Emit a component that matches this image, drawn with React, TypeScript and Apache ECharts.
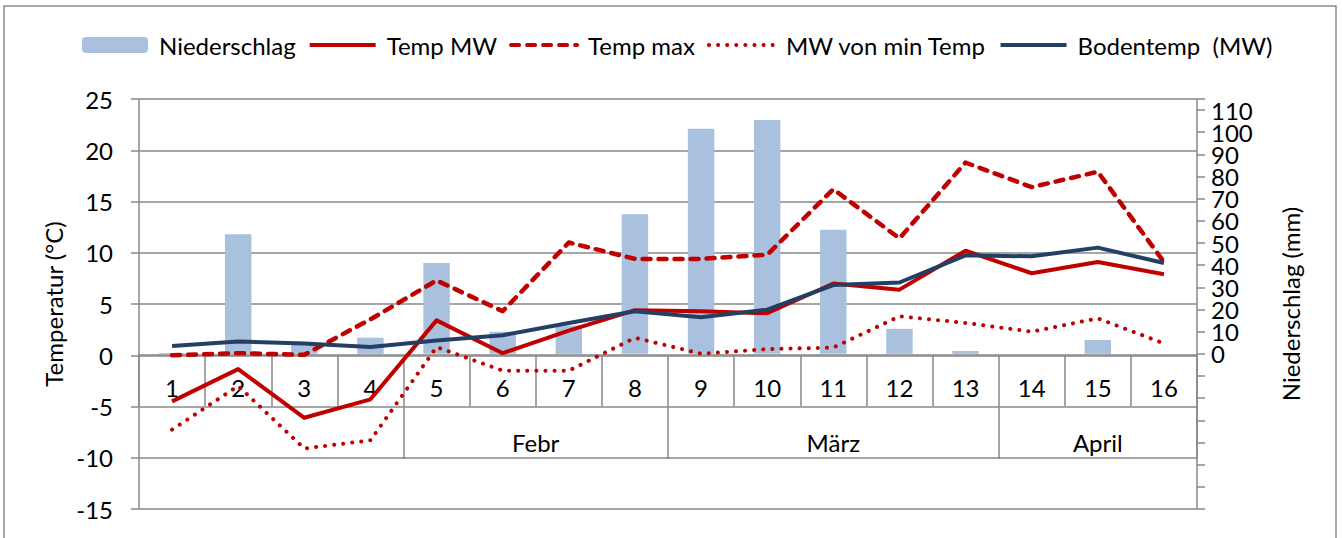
import React, { useEffect, useRef } from 'react';
import * as echarts from 'echarts';

const categories = ['1', '2', '3', '4', '5', '6', '7', '8', '9', '10', '11', '12', '13', '14', '15', '16'];
const monthLabels = ['', '', '', '', '', 'Febr', '', '', '', '', 'März', '', '', '', 'April', ''];
const groupStartIndex = [4, 8, 13];

const niederschlag = [0.4, 54, 4, 7.3, 41, 10, 12.8, 63, 101.6, 105.5, 56, 11.3, 1.3, 0, 6.3, 0];
const tempMW = [-4.5, -1.35, -6.1, -4.3, 3.4, 0.2, 2.4, 4.4, 4.3, 4.1, 7.0, 6.4, 10.2, 8.0, 9.1, 7.9];
const tempMax = [0, 0.2, 0.05, 3.5, 7.3, 4.3, 11, 9.4, 9.4, 9.8, 16.2, 11.4, 18.8, 16.4, 17.9, 9.1];
const minTempMW = [-7.25, -3.0, -9.1, -8.3, 0.8, -1.5, -1.5, 1.7, 0.15, 0.6, 0.75, 3.8, 3.15, 2.3, 3.6, 1.15];
const bodentemp = [0.9, 1.35, 1.15, 0.8, 1.45, 1.95, 3.15, 4.3, 3.7, 4.45, 6.85, 7.1, 9.75, 9.65, 10.5, 9.0];

export default function App() {
  const ref = useRef<HTMLDivElement>(null);
  useEffect(() => {
    document.body.style.margin = '0';
    const chart = echarts.init(ref.current!, null, { renderer: 'svg' });
    const font = 'Lato';
    const fs = 24;
    const gray = '#898989';
    const red = '#C00000';
    const navy = '#243F64';
    const txt = { fontFamily: font, fontSize: fs, color: '#000' };
    const noSymbol = { itemStyle: { opacity: 0 } };
    chart.setOption({
      animation: false,
      backgroundColor: '#fff',
      textStyle: { fontFamily: font },
      graphic: [
        {
          type: 'rect',
          silent: true,
          z: -1,
          shape: { x: 4, y: 6, width: 1332, height: 560 },
          style: { fill: 'rgba(0,0,0,0)', stroke: '#8c8c8c', lineWidth: 1.5 },
        },
      ],
      legend: {
        left: 82,
        top: 33,
        padding: 0,
        itemWidth: 66,
        itemHeight: 16,
        itemGap: 12,
        lineStyle: { width: 4 },
        textStyle: { ...txt, padding: [0, 0, 0, 6] },
        data: [
          { name: 'Niederschlag' },
          { name: 'Temp MW', ...noSymbol },
          { name: 'Temp max', ...noSymbol },
          { name: 'MW von min Temp', ...noSymbol },
          { name: 'Bodentemp  (MW)', ...noSymbol },
        ],
      },
      grid: { left: 139, right: 145, top: 99, bottom: 29, containLabel: false, outerBoundsMode: 'none' },
      xAxis: [
        {
          type: 'category',
          data: categories,
          position: 'bottom',
          offset: -154,
          boundaryGap: true,
          axisLine: { show: true, onZero: false, lineStyle: { color: gray, width: 1.5 } },
          axisTick: { show: true, interval: 0, length: 51, lineStyle: { color: gray, width: 1.5 } },
          axisLabel: { ...txt, interval: 0, margin: 20 },
          splitLine: { show: false },
        },
        {
          type: 'category',
          data: monthLabels,
          position: 'bottom',
          offset: -103,
          boundaryGap: true,
          axisLine: { show: false, onZero: false },
          axisTick: {
            show: true,
            interval: (i: number) => groupStartIndex.includes(i),
            length: 53,
            lineStyle: { color: gray, width: 1.5 },
          },
          axisLabel: {
            ...txt,
            interval: 0,
            margin: 24,
            formatter: (v: string) => (v === 'Febr' ? '{s|' + v + '}' : v),
            rich: { s: { ...txt, padding: [0, 0, 0, 66] } },
          },
          splitLine: { show: false },
        },
      ],
      yAxis: [
        {
          type: 'value',
          min: -15,
          max: 25,
          interval: 5,
          position: 'left',
          axisLine: { show: true, lineStyle: { color: gray, width: 1.5 } },
          axisTick: { show: true, length: 8, lineStyle: { color: gray, width: 1.5 } },
          axisLabel: { ...txt, margin: 26 },
          splitLine: { show: true, lineStyle: { color: gray, width: 1.5 } },
          name: 'Temperatur (°C)',
          nameLocation: 'middle',
          nameRotate: 90,
          nameGap: 70,
          nameTextStyle: txt,
        },
        {
          type: 'value',
          min: -70,
          max: 115,
          interval: 10,
          position: 'right',
          axisLine: { show: true, lineStyle: { color: gray, width: 1.5 } },
          axisTick: { show: true, length: 8, lineStyle: { color: gray, width: 1.5 } },
          axisLabel: {
            ...txt,
            margin: 14,
            lineHeight: 20,
            formatter: (v: number) => (v >= 0 && v <= 110 ? String(v) : ''),
          },
          splitLine: { show: false },
          name: 'Niederschlag (mm)',
          nameLocation: 'middle',
          nameRotate: 90,
          nameGap: 81,
          nameTextStyle: txt,
        },
      ],
      series: [
        {
          name: 'Niederschlag',
          type: 'bar',
          xAxisIndex: 0,
          yAxisIndex: 1,
          data: niederschlag,
          barWidth: '40%',
          itemStyle: { color: '#A9C1DE' },
        },
        {
          name: 'Temp MW',
          type: 'line',
          yAxisIndex: 0,
          data: tempMW,
          symbol: 'none',
          lineStyle: { color: red, width: 4, join: 'round' },
          itemStyle: { color: red },
        },
        {
          name: 'Temp max',
          type: 'line',
          yAxisIndex: 0,
          data: tempMax,
          symbol: 'none',
          lineStyle: { color: red, width: 4.5, type: [8, 8], cap: 'round', join: 'round' },
          itemStyle: { color: red },
        },
        {
          name: 'MW von min Temp',
          type: 'line',
          yAxisIndex: 0,
          data: minTempMW,
          symbol: 'none',
          lineStyle: { color: red, width: 4, type: [0.1, 9], cap: 'round', join: 'round' },
          itemStyle: { color: red },
        },
        {
          name: 'Bodentemp  (MW)',
          type: 'line',
          yAxisIndex: 0,
          data: bodentemp,
          symbol: 'none',
          lineStyle: { color: navy, width: 4, join: 'round' },
          itemStyle: { color: navy },
        },
      ],
    });
    return () => chart.dispose();
  }, []);
  return (
    <div
      ref={ref}
      style={{ position: 'fixed', left: 0, top: 0, width: 1342, height: 538, background: '#fff' }}
    />
  );
}
